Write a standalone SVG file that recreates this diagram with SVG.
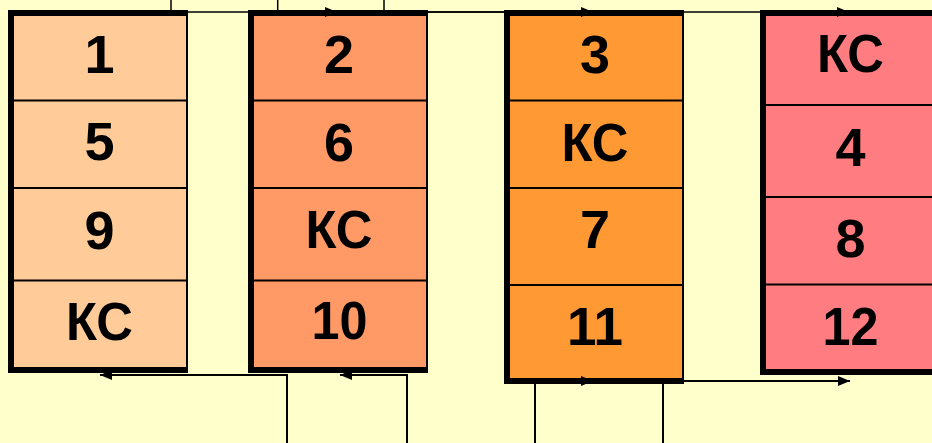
<svg xmlns="http://www.w3.org/2000/svg" width="932" height="443" viewBox="0 0 932 443">
<style>
.frame{fill:#000}
.div{stroke:#000;stroke-width:2}
.t{font-family:"Liberation Sans",Arial,sans-serif;font-weight:bold;font-size:54px;fill:#000;text-anchor:middle}
.c1{stroke:#000;stroke-width:1.5;fill:none}
.c2{stroke:#000;stroke-width:2;fill:none}
</style>
<defs>
<marker id="ah" markerUnits="userSpaceOnUse" markerWidth="12" markerHeight="10" refX="12" refY="5" orient="auto">
<path d="M0,0 L12,5 L0,10 z" fill="#000"/>
</marker>
</defs>
<rect width="932" height="443" fill="#FFFFCC"/>
<g id="box1">
<rect class="frame" x="8" y="10" width="180" height="363"/>
<rect x="14" y="16" width="172" height="351" fill="#FFCC99"/>
<line class="div" x1="14" y1="100.5" x2="186" y2="100.5"/>
<line class="div" x1="14" y1="188" x2="186" y2="188"/>
<line class="div" x1="14" y1="280.5" x2="186" y2="280.5"/>
<text class="t" x="99.5" y="73">1</text>
<text class="t" x="99.5" y="160">5</text>
<text class="t" x="99.5" y="249">9</text>
<text class="t" x="99.5" y="340" textLength="67" lengthAdjust="spacingAndGlyphs">КС</text>
</g>
<g id="box2">
<rect class="frame" x="248" y="10" width="180" height="363"/>
<rect x="254" y="16" width="172" height="351" fill="#FF9966"/>
<line class="div" x1="254" y1="100.5" x2="426" y2="100.5"/>
<line class="div" x1="254" y1="188" x2="426" y2="188"/>
<line class="div" x1="254" y1="280.5" x2="426" y2="280.5"/>
<text class="t" x="339" y="73">2</text>
<text class="t" x="339" y="161">6</text>
<text class="t" x="339" y="248" textLength="67" lengthAdjust="spacingAndGlyphs">КС</text>
<text class="t" x="339.5" y="339" textLength="56" lengthAdjust="spacingAndGlyphs">10</text>
</g>
<g id="box3">
<rect class="frame" x="504" y="10" width="180" height="374"/>
<rect x="510" y="16" width="172" height="362" fill="#FF9933"/>
<line class="div" x1="510" y1="100.5" x2="682" y2="100.5"/>
<line class="div" x1="510" y1="188" x2="682" y2="188"/>
<line class="div" x1="510" y1="285" x2="682" y2="285"/>
<text class="t" x="595" y="73">3</text>
<text class="t" x="595" y="161" textLength="67" lengthAdjust="spacingAndGlyphs">КС</text>
<text class="t" x="595" y="248">7</text>
<text class="t" x="595" y="345" textLength="56" lengthAdjust="spacingAndGlyphs">11</text>
</g>
<g id="box4">
<rect class="frame" x="760" y="10" width="180" height="365"/>
<rect x="766" y="16" width="172" height="353" fill="#FF7C80"/>
<line class="div" x1="766" y1="105" x2="938" y2="105"/>
<line class="div" x1="766" y1="197" x2="938" y2="197"/>
<line class="div" x1="766" y1="284.5" x2="938" y2="284.5"/>
<text class="t" x="850.5" y="72" textLength="67" lengthAdjust="spacingAndGlyphs">КС</text>
<text class="t" x="850.5" y="166">4</text>
<text class="t" x="850.5" y="257">8</text>
<text class="t" x="850.5" y="345" textLength="56" lengthAdjust="spacingAndGlyphs">12</text>
</g>
<g id="connectors">
<path class="c1" d="M171,0 V12 H337" marker-end="url(#ah)"/>
<path class="c1" d="M277.7,0 V12 H593" marker-end="url(#ah)"/>
<path class="c1" d="M384,0 V12 H849" marker-end="url(#ah)"/>
<path class="c2" d="M287,443 V375 H100" marker-end="url(#ah)"/>
<path class="c2" d="M407,443 V375 H340" marker-end="url(#ah)"/>
<path class="c2" d="M535,443 V381 H593" marker-end="url(#ah)"/>
<path class="c2" d="M663,443 V381 H850" marker-end="url(#ah)"/>
</g>
</svg>
